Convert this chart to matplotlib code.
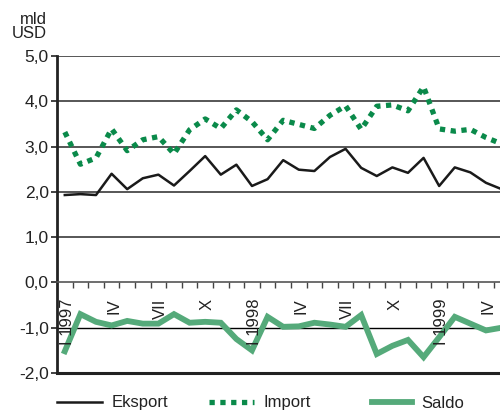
import matplotlib
matplotlib.use("Agg")
import matplotlib.pyplot as plt
import numpy as np

plt.rcParams['font.family'] = ['Liberation Sans', 'DejaVu Sans']

months = ["I 1997", "II", "III", "IV", "V", "VI", "VII", "VIII", "IX", "X", "XI", "XII",
          "I 1998", "II", "III", "IV", "V", "VI", "VII", "VIII", "IX", "X", "XI", "XII",
          "I 1999", "II", "III", "IV", "V"]
eksport = [1.93, 1.95, 1.93, 2.40, 2.06, 2.30, 2.38, 2.14, 2.46, 2.79,
           2.38, 2.60, 2.13, 2.28, 2.70, 2.49, 2.46, 2.77, 2.95, 2.53,
           2.35, 2.54, 2.42, 2.75, 2.13, 2.54, 2.43, 2.20, 2.06]
import_ = [3.32, 2.61, 2.75, 3.39, 2.91, 3.15, 3.22, 2.84, 3.37, 3.61,
           3.40, 3.81, 3.55, 3.15, 3.58, 3.49, 3.40, 3.69, 3.90, 3.38,
           3.89, 3.92, 3.79, 4.32, 3.39, 3.34, 3.38, 3.20, 3.06]
saldo = [-1.52, -0.70, -0.87, -0.95, -0.85, -0.91, -0.91, -0.70, -0.89, -0.87,
         -0.89, -1.25, -1.50, -0.76, -0.98, -0.97, -0.89, -0.93, -0.98, -0.72,
         -1.58, -1.40, -1.27, -1.65, -1.21, -0.76, -0.91, -1.06, -1.00]
labelled = [0, 3, 6, 9, 12, 15, 18, 21, 24, 27]
yticks = [-2.0, -1.0, 0.0, 1.0, 2.0, 3.0, 4.0, 5.0]

W, H = 500, 413
fig = plt.figure(figsize=(W / 100, H / 100), dpi=100)
ax = fig.add_axes([57 / W, 1 - 373 / H, 1 - 57 / W, (373 - 56) / H])

x = np.arange(len(months))
ax.set_xlim(-0.5, 27.9)
ax.set_ylim(-2.0, 5.0)

# grid lines
for v in [1.0, 2.0, 3.0, 4.0, 5.0]:
    ax.axhline(v, color='#3a3a3a', lw=1.2, zorder=1)
ax.axhline(-1.0, color='#000000', lw=1.0, zorder=1)
ax.axhline(-2.0, color='#222222', lw=2.2, zorder=1, clip_on=False)

l1, = ax.plot(x, eksport, color='#1a1a1a', lw=1.8, zorder=3, label='Eksport')
l2, = ax.plot(x, import_, color='#0a8a4a', lw=3.8, zorder=3, label='Import',
              dashes=(1.0, 1.05), dash_capstyle='butt')
l3, = ax.plot(x, saldo, color='#55aa7a', lw=4.2, zorder=2, label='Saldo',
              solid_joinstyle='miter')

# spines
for s in ['top', 'right']:
    ax.spines[s].set_visible(False)
ax.spines['left'].set_linewidth(2.0)
ax.spines['left'].set_color('#222222')
ax.spines['bottom'].set_position(('data', 0))
ax.spines['bottom'].set_color('#555555')
ax.spines['bottom'].set_linewidth(1.2)

ax.set_yticks(yticks)
ax.set_yticklabels([f"{v:.1f}".replace('.', ',') for v in yticks], fontsize=12.5, color='#222222')
ax.tick_params(axis='y', length=4, width=1.2, pad=2, color='#222222')

ax.set_xticks(np.arange(0.5, 28.5, 1.0))
ax.set_xticklabels([])
ax.tick_params(axis='x', length=4, width=1.0, direction='out', color='#444444')

for i in labelled:
    ax.annotate(months[i], xy=(x[i] + 0.15, 0), xytext=(0, -11.5), textcoords='offset points',
                rotation=90, ha='center', va='top', fontsize=12, color='#222222',
                annotation_clip=False, zorder=4)

fig.text(47 / W, 1 - 12 / H, "mld\nUSD", ha='right', va='top', fontsize=12,
         linespacing=0.95, color='#222222')

# legends
yl = 1 - 403 / H
for handle, xpos, hl in [(l1, 57, 2.7), (l2, 209, 2.7), (l3, 372, 2.4)]:
    fig.legend(handles=[handle], loc='center left', bbox_to_anchor=(xpos / W, yl),
               frameon=False, fontsize=12, handlelength=hl, handletextpad=0.55,
               borderpad=0, borderaxespad=0, labelcolor='#222222')

fig.savefig('out.png', dpi=100)
